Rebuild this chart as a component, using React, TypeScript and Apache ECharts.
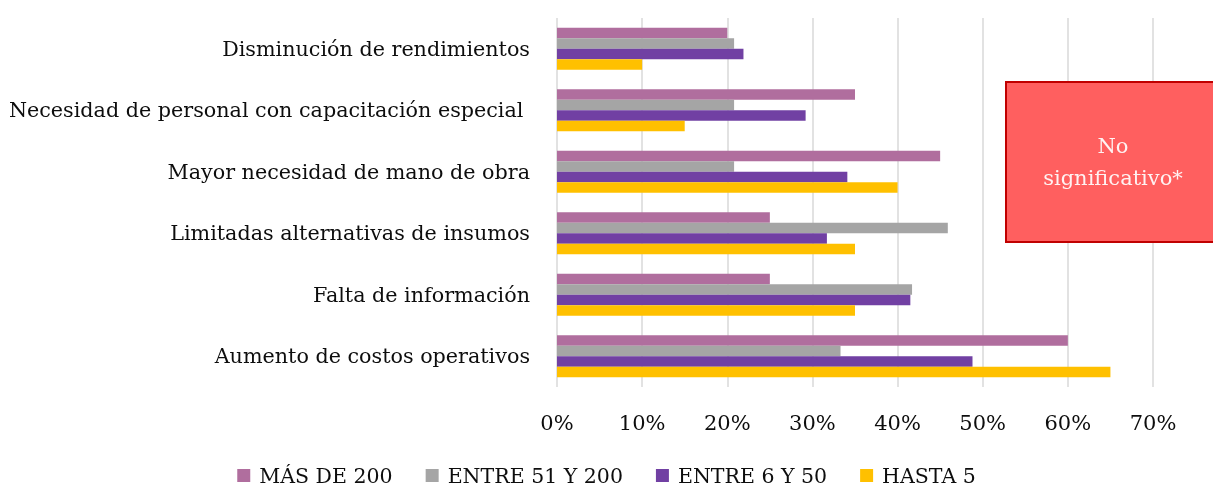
import React, { useEffect, useRef } from "react";
import * as echarts from "echarts";

const categories = [
  "Disminución de rendimientos",
  "Necesidad de personal con capacitación especial ",
  "Mayor necesidad de mano de obra",
  "Limitadas alternativas de insumos",
  "Falta de información",
  "Aumento de costos operativos",
];

const seriesNames = ["MÁS DE 200", "ENTRE 51 Y 200", "ENTRE 6 Y 50", "HASTA 5"];
const masDe200 = [20, 35, 45, 25, 25, 60];
const entre51y200 = [20.8, 20.8, 20.8, 45.9, 41.7, 33.3];
const entre6y50 = [21.9, 29.2, 34.1, 31.7, 41.5, 48.8];
const hasta5 = [10, 15, 40, 35, 35, 65];
const colors = ["#B06E9E", "#A5A5A5", "#7140A3", "#FFC000"];
const xTicks = { min: 0, max: 70, interval: 10 };
const noteText = "No\nsignificativo*";

const FONT = "'DejaVu Serif', serif";

export default function App() {
  const ref = useRef<HTMLDivElement>(null);
  useEffect(() => {
    if (!ref.current) return;
    const chart = echarts.init(ref.current, undefined, { renderer: "svg" });
    const values = [masDe200, entre51y200, entre6y50, hasta5];
    chart.setOption({
      animation: false,
      textStyle: { fontFamily: FONT },
      grid: { left: 557, right: 60, top: 18, bottom: 99, containLabel: false },
      legend: {
        data: seriesNames,
        left: "center",
        top: 465,
        padding: 0,
        itemWidth: 13,
        itemHeight: 13,
        itemGap: 33,
        icon: "rect",
        textStyle: { fontFamily: FONT, fontSize: 20.5, color: "#0d0d0d", padding: [0, 0, 0, 4] },
      },
      xAxis: {
        type: "value",
        min: xTicks.min,
        max: xTicks.max,
        interval: xTicks.interval,
        axisLine: { show: false },
        axisTick: { show: false },
        axisLabel: {
          formatter: "{value}%",
          margin: 25,
          fontFamily: FONT,
          fontSize: 21,
          color: "#0d0d0d",
        },
        splitLine: { show: true, lineStyle: { color: "#D9D9D9", width: 1.5 } },
      },
      yAxis: {
        type: "category",
        inverse: true,
        data: categories,
        axisLine: { show: false },
        axisTick: { show: false },
        axisLabel: { margin: 27, fontFamily: FONT, fontSize: 20.7, color: "#0d0d0d" },
      },
      series: seriesNames.map((name, i) => ({
        name,
        type: "bar",
        data: values[i],
        barGap: "0%",
        barCategoryGap: "32%",
        itemStyle: { color: colors[i] },
      })),
      graphic: [
        {
          type: "rect",
          z: 100,
          shape: { x: 1006, y: 82, width: 214, height: 160 },
          style: { fill: "#FF5F5F", stroke: "#C00000", lineWidth: 2 },
        },
        {
          type: "text",
          z: 101,
          x: 1113,
          y: 162,
          style: {
            text: noteText,
            fill: "#FFF2F2",
            font: "21px 'DejaVu Serif', serif",
            align: "center",
            verticalAlign: "middle",
            lineHeight: 32,
          },
        },
      ],
    });
    return () => chart.dispose();
  }, []);
  return (
    <div
      ref={ref}
      style={{ position: "fixed", left: 0, top: 0, width: 1213, height: 486 }}
    />
  );
}
